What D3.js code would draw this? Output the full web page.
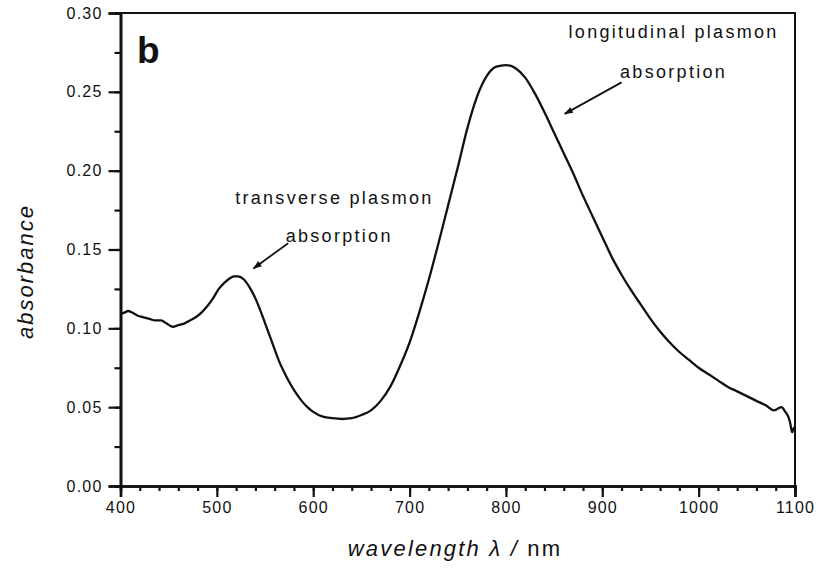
<!DOCTYPE html>
<html>
<head>
<meta charset="utf-8">
<script src="https://cdn.jsdelivr.net/npm/d3@7"></script>
<style>
  html, body { margin: 0; padding: 0; background: #fff; }
  svg { display: block; }
  text { font-family: "Liberation Sans", Arial, sans-serif; fill: #111; }
</style>
</head>
<body>
<svg id="chart" width="818" height="568"></svg>
<script>
// Absorption spectrum of gold nanorods (panel b)
const wavelength = [400, 404, 408, 412, 418, 424, 430, 436, 442, 448, 454, 460, 466, 472, 478, 484, 490, 496, 502, 508, 514, 518, 522, 528, 534, 540, 546, 552, 558, 564, 570, 576, 582, 588, 594, 600, 610, 620, 630, 640, 650, 660, 670, 680, 690, 700, 710, 720, 730, 740, 750, 760, 770, 780, 790, 800, 810, 820, 830, 840, 850, 860, 870, 880, 890, 900, 910, 920, 930, 940, 950, 960, 970, 980, 990, 1000, 1010, 1020, 1030, 1040, 1050, 1060, 1070, 1078, 1082, 1086, 1090, 1093, 1095, 1097, 1099, 1100];
const absorbance = [0.109, 0.110, 0.111, 0.110, 0.108, 0.107, 0.106, 0.105, 0.105, 0.103, 0.101, 0.102, 0.103, 0.105, 0.107, 0.110, 0.114, 0.119, 0.125, 0.129, 0.132, 0.133, 0.133, 0.131, 0.126, 0.119, 0.110, 0.100, 0.090, 0.080, 0.072, 0.065, 0.059, 0.054, 0.050, 0.047, 0.044, 0.043, 0.0425, 0.043, 0.045, 0.048, 0.054, 0.063, 0.076, 0.091, 0.110, 0.131, 0.154, 0.178, 0.202, 0.227, 0.247, 0.260, 0.266, 0.267, 0.265, 0.259, 0.249, 0.237, 0.224, 0.211, 0.198, 0.184, 0.171, 0.158, 0.145, 0.134, 0.124, 0.115, 0.106, 0.098, 0.091, 0.085, 0.080, 0.075, 0.071, 0.067, 0.063, 0.060, 0.057, 0.054, 0.051, 0.048, 0.049, 0.050, 0.047, 0.044, 0.040, 0.034, 0.037, 0.036];

const xTicks = [400, 500, 600, 700, 800, 900, 1000, 1100];
const xMinorTicks = d3.range(400, 1101, 20);
const yTicks = [0.00, 0.05, 0.10, 0.15, 0.20, 0.25, 0.30];
const yMinorTicks = d3.range(0, 0.3001, 0.025);

const panelLabel = "b";
// annotation anchors in data units: [wavelength, absorbance] per text line, arrow tail and head
const annotations = [
  { lines: ["longitudinal plasmon", "absorption"], at: [[974, 0.284], [974, 0.259]], from: [920, 0.256], to: [861, 0.236] },
  { lines: ["transverse plasmon", "absorption"], at: [[622, 0.179], [627, 0.155]], from: [574, 0.154], to: [538, 0.138] }
];

const svg = d3.select("#chart");
const margin = { left: 120.5, right: 23, top: 13, bottom: 82 };
const W = 818, H = 568;

const x = d3.scaleLinear().domain([400, 1100]).range([margin.left, W - margin.right]);
const y = d3.scaleLinear().domain([0, 0.30]).range([H - margin.bottom, margin.top]);

// arrow head marker
svg.append("defs").append("marker")
  .attr("id", "head").attr("viewBox", "0 0 10 10")
  .attr("refX", 9).attr("refY", 5)
  .attr("markerWidth", 10).attr("markerHeight", 9)
  .attr("markerUnits", "userSpaceOnUse")
  .attr("orient", "auto")
  .append("path").attr("d", "M0,1.5 L10,5 L0,8.5 Z").attr("fill", "#111");

// frame (top and right)
svg.append("path")
  .attr("d", `M${x(400)},${y(0.30)} H${x(1100)} V${y(0)}`)
  .attr("fill", "none").attr("stroke", "#111").attr("stroke-width", 2);

// minor ticks
const minorX = svg.append("g").attr("transform", `translate(0,${y(0)})`)
  .call(d3.axisBottom(x).tickValues(xMinorTicks).tickSize(5).tickFormat(""));
const minorY = svg.append("g").attr("transform", `translate(${x(400)},0)`)
  .call(d3.axisLeft(y).tickValues(yMinorTicks).tickSize(6).tickFormat(""));

// major axes
const xAxis = svg.append("g").attr("transform", `translate(0,${y(0)})`)
  .call(d3.axisBottom(x).tickValues(xTicks).tickSize(11).tickPadding(5).tickFormat(d3.format("d")));
const yAxis = svg.append("g").attr("transform", `translate(${x(400)},0)`)
  .call(d3.axisLeft(y).tickValues(yTicks).tickSize(12).tickPadding(6).tickFormat(d3.format(".2f")));

[minorX, minorY, xAxis, yAxis].forEach(g => {
  g.select(".domain").attr("stroke", "#111").attr("stroke-width", 2.6);
  g.selectAll(".tick line").attr("stroke", "#111").attr("stroke-width", 2.2);
});
[xAxis, yAxis].forEach(g => {
  g.selectAll(".tick text").attr("font-size", 16).attr("letter-spacing", 1.2)
    .attr("font-family", "'Liberation Sans', Arial, sans-serif").attr("fill", "#222");
});

// spectrum
const line = d3.line().x((d, i) => x(wavelength[i])).y(d => y(d)).curve(d3.curveMonotoneX);
svg.append("path").datum(absorbance)
  .attr("d", line)
  .attr("fill", "none").attr("stroke", "#111").attr("stroke-width", 2.3)
  .attr("stroke-linejoin", "round");

// axis titles
svg.append("text")
  .attr("transform", `translate(33,${(y(0) + y(0.30)) / 2 + 22}) rotate(-90)`)
  .attr("text-anchor", "middle").attr("font-size", 22).attr("font-style", "italic")
  .attr("letter-spacing", 2)
  .text("absorbance");

const xt = svg.append("text")
  .attr("x", 455).attr("y", 556)
  .attr("text-anchor", "middle").attr("font-size", 22).attr("letter-spacing", 2.2);
xt.append("tspan").attr("font-style", "italic").text("wavelength λ / ");
xt.append("tspan").text("nm");

// panel label
svg.append("text").attr("x", 137).attr("y", 63)
  .attr("font-size", 37).attr("font-weight", "bold").attr("font-family", "Arial, 'Liberation Sans', sans-serif")
  .text(panelLabel);

// annotations with arrows
annotations.forEach(a => {
  const t = svg.append("text").attr("text-anchor", "middle")
    .attr("font-size", 18).attr("letter-spacing", 2.3);
  a.lines.forEach((s, i) => {
    t.append("tspan").attr("x", x(a.at[i][0])).attr("y", y(a.at[i][1])).text(s);
  });
  svg.append("line")
    .attr("x1", x(a.from[0])).attr("y1", y(a.from[1]))
    .attr("x2", x(a.to[0])).attr("y2", y(a.to[1]))
    .attr("stroke", "#111").attr("stroke-width", 1.8)
    .attr("marker-end", "url(#head)");
});
</script>
</body>
</html>
